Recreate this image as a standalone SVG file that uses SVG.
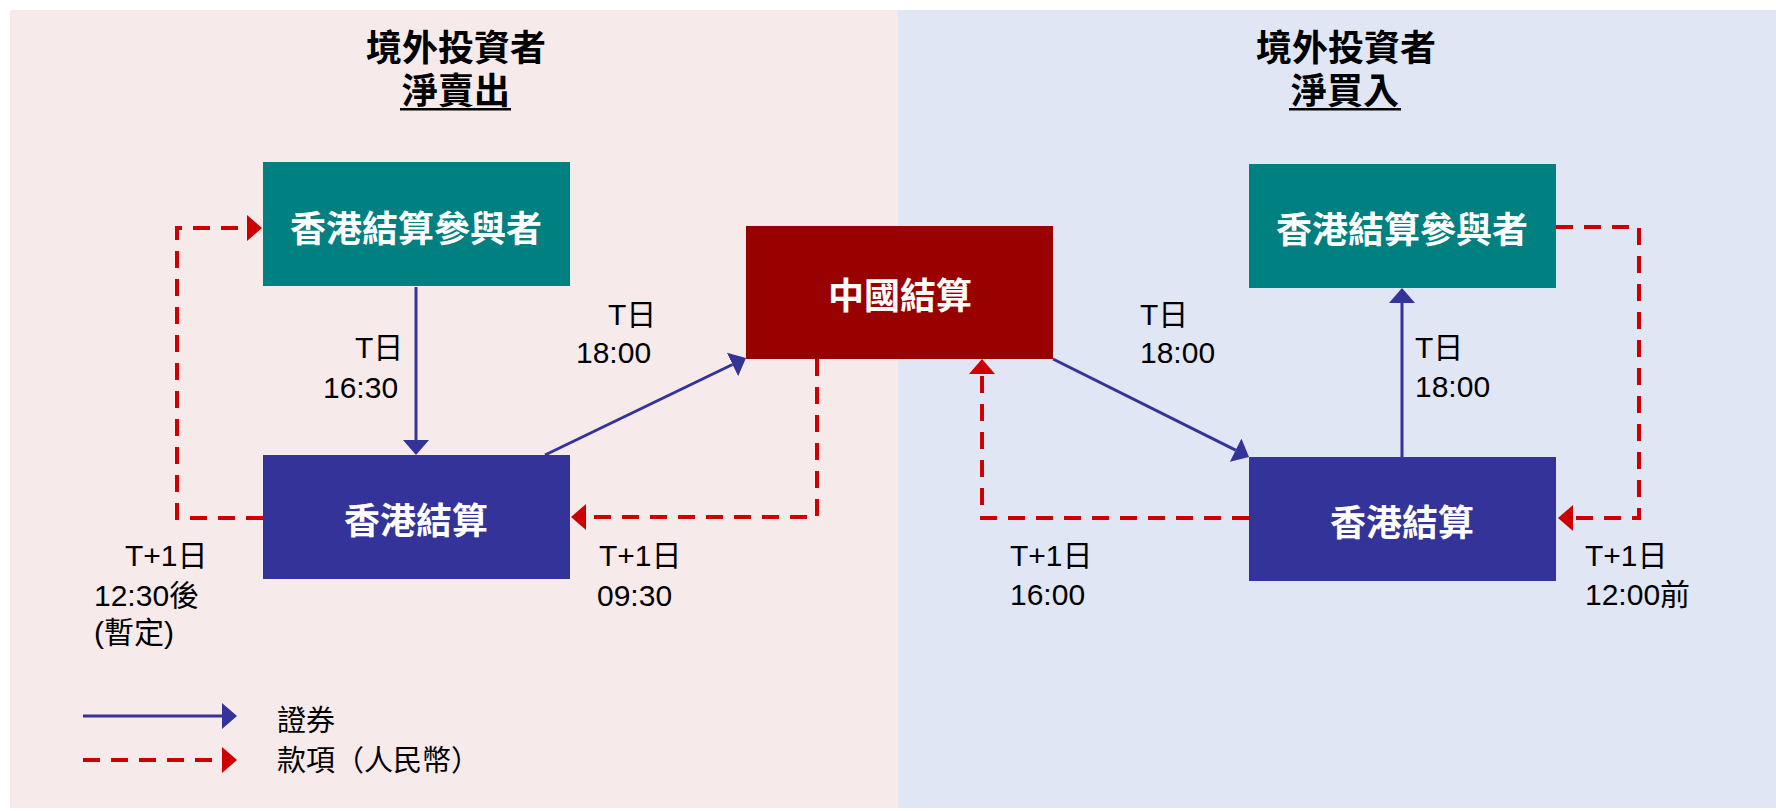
<svg xmlns="http://www.w3.org/2000/svg" width="1776" height="811" viewBox="0 0 1776 811">
<style>
.title{font-family:"Noto Sans CJK TC","Noto Sans CJK SC",sans-serif;font-size:36px;font-weight:700;fill:#000;text-anchor:middle}
.ntext{font-family:"Noto Sans CJK TC","Noto Sans CJK SC",sans-serif;font-size:36px;font-weight:700;fill:#fff;text-anchor:middle}
.lbl{font-family:"Liberation Sans","Noto Sans CJK TC",sans-serif;font-size:30px;fill:#000}
.leg{font-family:"Noto Sans CJK TC","Noto Sans CJK SC",sans-serif;font-size:29px;fill:#000}
.sec{fill:none;stroke:#333399;stroke-width:3}
.cash{fill:none;stroke:#CC0000;stroke-width:4;stroke-dasharray:17 11}
</style>
<defs>
<marker id="ab" viewBox="0 0 15 26" refX="0" refY="13" markerWidth="15" markerHeight="26" markerUnits="userSpaceOnUse" orient="auto">
<path d="M0,0 L15,13 L0,26 Z" fill="#333399"/>
</marker>
<marker id="ar" viewBox="0 0 15 26" refX="0" refY="13" markerWidth="15" markerHeight="26" markerUnits="userSpaceOnUse" orient="auto">
<path d="M0,0 L15,13 L0,26 Z" fill="#CC0000"/>
</marker>
</defs>
<rect x="0" y="0" width="1776" height="811" fill="#ffffff"/>
<rect x="10" y="10" width="888" height="798" fill="#F7EAEB"/>
<rect x="898" y="10" width="878" height="798" fill="#E0E6F4"/>

<g id="title-left">
<text class="title" x="456" y="61">境外投資者</text>
<text class="title" x="456" y="104">淨賣出</text>
<rect x="400" y="108" width="111" height="2.5" fill="#000"/>
</g>
<g id="title-right">
<text class="title" x="1346" y="61">境外投資者</text>
<text class="title" x="1345" y="104">淨買入</text>
<rect x="1289" y="108" width="112" height="2.5" fill="#000"/>
</g>

<g id="connectors">
<line class="sec" x1="416" y1="287" x2="416" y2="440" marker-end="url(#ab)"/>
<line class="sec" x1="545" y1="455" x2="732.5" y2="364.5" marker-end="url(#ab)"/>
<path class="cash" d="M817,359 V517 H586" marker-end="url(#ar)"/>
<path class="cash" d="M263,518 H177 V228 H247" marker-end="url(#ar)"/>
<line class="sec" x1="1053" y1="359" x2="1235.6" y2="450.2" marker-end="url(#ab)"/>
<line class="sec" x1="1402" y1="457" x2="1402" y2="303" marker-end="url(#ab)"/>
<path class="cash" d="M1249,518 H982 V374" marker-end="url(#ar)"/>
<path class="cash" d="M1556,227 H1639 V518 H1573" marker-end="url(#ar)"/>
</g>

<g id="hk-participant-left">
<rect x="263" y="162" width="307" height="124" fill="#008080"/>
<text class="ntext" x="416" y="242">香港結算參與者</text>
</g>
<g id="hkscc-left">
<rect x="263" y="455" width="307" height="124" fill="#333399"/>
<text class="ntext" x="416" y="534">香港結算</text>
</g>
<g id="chinaclear">
<rect x="746" y="226" width="307" height="133" fill="#990000"/>
<text class="ntext" x="900" y="309">中國結算</text>
</g>
<g id="hk-participant-right">
<rect x="1249" y="164" width="307" height="124" fill="#008080"/>
<text class="ntext" x="1402" y="243">香港結算參與者</text>
</g>
<g id="hkscc-right">
<rect x="1249" y="457" width="307" height="124" fill="#333399"/>
<text class="ntext" x="1402" y="536">香港結算</text>
</g>

<g id="labels">
<text class="lbl" x="355" y="358">T日</text>
<text class="lbl" x="323" y="398">16:30</text>
<text class="lbl" x="608" y="325">T日</text>
<text class="lbl" x="576" y="363">18:00</text>
<text class="lbl" x="125" y="566">T+1日</text>
<text class="lbl" x="94" y="606">12:30後</text>
<text class="lbl" x="94" y="643">(暫定)</text>
<text class="lbl" x="599" y="566">T+1日</text>
<text class="lbl" x="597" y="606">09:30</text>
<text class="lbl" x="1140" y="325">T日</text>
<text class="lbl" x="1140" y="363">18:00</text>
<text class="lbl" x="1415" y="358">T日</text>
<text class="lbl" x="1415" y="397">18:00</text>
<text class="lbl" x="1010" y="566">T+1日</text>
<text class="lbl" x="1010" y="605">16:00</text>
<text class="lbl" x="1585" y="566">T+1日</text>
<text class="lbl" x="1585" y="605">12:00前</text>
</g>

<g id="legend">
<line class="sec" x1="83" y1="716" x2="222" y2="716" marker-end="url(#ab)"/>
<path class="cash" d="M83,760 H222" marker-end="url(#ar)"/>
<text class="leg" x="277" y="731">證券</text>
<text class="leg" x="277" y="771">款項（人民幣）</text>
</g>
</svg>
